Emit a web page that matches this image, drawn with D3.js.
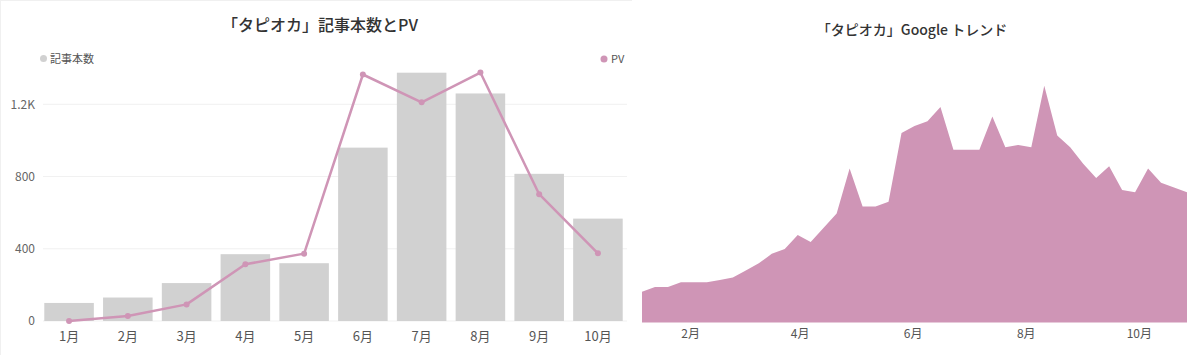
<!DOCTYPE html>
<html>
<head>
<meta charset="utf-8">
<script src="https://cdn.jsdelivr.net/npm/d3@7"></script>
<style>
  html, body { margin: 0; padding: 0; background: #fff; }
  svg { display: block; font-family: "Noto Sans CJK JP", "Noto Sans", sans-serif; }
</style>
</head>
<body>
<svg id="chart" width="1200" height="355"></svg>
<script>
// ---- Data ----
const months = ["1月","2月","3月","4月","5月","6月","7月","8月","9月","10月"];
const articleCounts = [100, 130, 210, 370, 320, 960, 1375, 1260, 815, 567];
const pageViews = [0, 28, 92, 314, 373, 1365, 1211, 1376, 702, 375];
const yTicks = [0, 400, 800, 1200];

const trendStart = "2019-01-06"; // weekly points, one per week
const trendValues = [13, 15, 15, 17, 17, 17, 18, 19, 22, 25, 29, 31, 37, 34, 40, 46, 65, 49, 49, 51,
  80, 83, 85, 91, 73, 73, 73, 87, 74, 75, 74, 100, 79, 74, 67, 61, 66, 56, 55, 65, 59, 57, 55];

const leftTitle = "「タピオカ」記事本数とPV";
const rightTitle = "「タピオカ」Google トレンド";
const legendBars = "記事本数";
const legendLine = "PV";

// ---- Styles ----
const barColor = "#d1d1d1";
const pink = "#cf95b6";
const textColor = "#555";

const svg = d3.select("#chart");

// ===== Left chart =====
const left = svg.append("g");
left.append("line").attr("x1", 0).attr("x2", 632).attr("y1", 0.5).attr("y2", 0.5)
  .attr("stroke", "#f0f0f0");
left.append("line").attr("x1", 0.5).attr("x2", 0.5).attr("y1", 0).attr("y2", 355)
  .attr("stroke", "#f0f0f0");

const x = d3.scaleBand().domain(months).range([44.3, 622.7]).paddingInner(0.157).paddingOuter(0);
const y = d3.scaleLinear().domain([0, 1200]).range([321, 104.3]);

// gridlines
left.append("g").selectAll("line").data(yTicks).join("line")
  .attr("x1", 43).attr("x2", 627)
  .attr("y1", d => y(d)).attr("y2", d => y(d))
  .attr("stroke", "#f1f1f1").attr("stroke-width", 1);

// y axis labels
const yAxis = d3.axisLeft(y).tickValues(yTicks).tickSize(0).tickPadding(0)
  .tickFormat(d => d >= 1000 ? d3.format(".1f")(d / 1000) + "K" : d);
left.append("g").attr("transform", "translate(35,0)").call(yAxis)
  .call(g => g.select(".domain").remove())
  .call(g => g.selectAll("text").attr("fill", "#666").style("font-size", "12px")
    .style("font-family", "'Noto Sans CJK JP', sans-serif"));

// bars
left.append("g").selectAll("rect").data(articleCounts).join("rect")
  .attr("x", (d, i) => x(months[i]))
  .attr("width", x.bandwidth())
  .attr("y", d => y(d))
  .attr("height", d => y(0) - y(d))
  .attr("fill", barColor);

// x axis labels
const xAxis = d3.axisBottom(x).tickSize(0).tickPadding(0);
left.append("g").attr("transform", "translate(0,332)").call(xAxis)
  .call(g => g.select(".domain").remove())
  .call(g => g.selectAll("text").attr("fill", textColor).style("font-size", "13px")
    .style("font-family", "'Noto Sans CJK JP', sans-serif"));

// PV line
const line = d3.line()
  .x((d, i) => x(months[i]) + x.bandwidth() / 2)
  .y(d => y(d));
left.append("path").datum(pageViews)
  .attr("d", line).attr("fill", "none")
  .attr("stroke", pink).attr("stroke-width", 2.5).attr("stroke-linejoin", "round");
left.append("g").selectAll("circle").data(pageViews).join("circle")
  .attr("cx", (d, i) => x(months[i]) + x.bandwidth() / 2)
  .attr("cy", d => y(d)).attr("r", 3).attr("fill", pink);

// title
left.append("text").attr("x", 320).attr("y", 31).attr("text-anchor", "middle")
  .attr("fill", "#333").style("font-size", "16px").style("font-weight", "500")
  .text(leftTitle);

// legend
left.append("circle").attr("cx", 43.5).attr("cy", 58.5).attr("r", 3.5).attr("fill", barColor);
left.append("text").attr("x", 50).attr("y", 62.5).attr("fill", textColor)
  .style("font-size", "11px").text(legendBars);
left.append("circle").attr("cx", 604).attr("cy", 59).attr("r", 3.5).attr("fill", pink);
left.append("text").attr("x", 611).attr("y", 62.5).attr("fill", textColor)
  .style("font-size", "11px").text(legendLine);

// ===== Right chart =====
const right = svg.append("g");
const parse = d3.timeParse("%Y-%m-%d");
const t0 = parse(trendStart);
const trendDates = trendValues.map((v, i) => d3.timeDay.offset(t0, i * 7));

const xt = d3.scaleTime().domain([trendDates[0], trendDates[trendDates.length - 1]]).range([642, 1187]);
const yt = d3.scaleLinear().domain([0, 100]).range([322.5, 85.7]);

const area = d3.area()
  .x((d, i) => xt(trendDates[i]))
  .y0(yt(0))
  .y1(d => yt(d));
right.append("path").datum(trendValues).attr("d", area).attr("fill", pink);

const xtAxis = d3.axisBottom(xt)
  .tickValues([1, 3, 5, 7, 9].map(m => new Date(2019, m, 1)))
  .tickFormat(d => (d.getMonth() + 1) + "月")
  .tickSize(0).tickPadding(0);
right.append("g").attr("transform", "translate(0,329)").call(xtAxis)
  .call(g => g.select(".domain").remove())
  .call(g => g.selectAll("text").attr("fill", textColor).style("font-size", "12px")
    .style("font-family", "'Noto Sans CJK JP', sans-serif"));

right.append("text").attr("x", 912).attr("y", 35).attr("text-anchor", "middle")
  .attr("fill", "#333").style("font-size", "14px").style("font-weight", "500")
  .text(rightTitle);
</script>
</body>
</html>
